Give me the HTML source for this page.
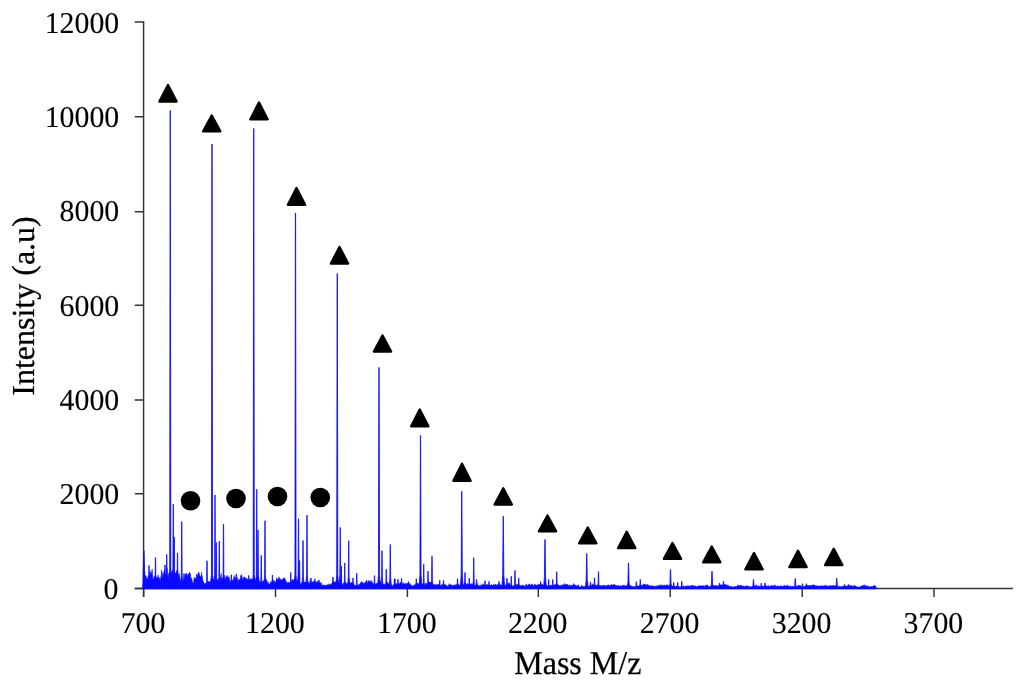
<!DOCTYPE html>
<html lang="en"><head><meta charset="utf-8"><title>Mass spectrum</title>
<style>
html,body{margin:0;padding:0;background:#fff;}
body{width:1024px;height:684px;overflow:hidden;}
svg{display:block;}
text{font-family:"Liberation Serif","Times New Roman",serif;text-rendering:geometricPrecision;fill:#000;stroke:#000;stroke-width:0.25px;}
.tk text{font-size:29.8px;stroke-width:0.12px;}
.ttl{font-size:32px;}
</style></head><body>
<svg width="1024" height="684" viewBox="0 0 1024 684">
<rect width="1024" height="684" fill="#fff"/>
<g fill="none" stroke="#333" stroke-width="1.45">
<path d="M143.6 21.28 V596.9"/>
<path d="M134.8 588.4 H1013"/>
<path d="M134.8 22 H143.6 M134.8 116.8 H143.6 M134.8 211.7 H143.6 M134.8 305.3 H143.6 M134.8 400 H143.6 M134.8 493.7 H143.6 M134.8 588.4 H143.6 "/>
<path d="M143.6 588.4 V596.9 M275.5 588.4 V596.9 M407.4 588.4 V596.9 M538.3 588.4 V596.9 M670.2 588.4 V596.9 M802.2 588.4 V596.9 M934 588.4 V596.9 "/>
</g>
<g fill="#0a0aff" stroke="#0a0aff" stroke-linejoin="miter" stroke-miterlimit="2">
<path stroke-width="0.5" d="M142.9 588.95 L142.9 574.4 L143.6 553.89 L144.1 562.03 L144.6 570.67 L145.1 575.33 L145.6 576.42 L146.1 575.58 L146.6 579.46 L147.1 577.87 L147.6 579.69 L148.1 576.24 L148.6 577.35 L149.1 575.78 L149.6 573.64 L150.1 571.19 L150.6 572.14 L151.1 574.2 L151.6 573.08 L152.1 568.94 L152.6 575.35 L153.1 579.03 L153.6 579.99 L154.1 576.48 L154.6 575.98 L155.1 576.27 L155.6 577 L156.1 576.88 L156.6 577.18 L157.1 577.61 L157.6 577.58 L158.1 574.84 L158.6 576.93 L159.1 579.92 L159.6 577.56 L160.1 581.06 L160.6 577.96 L161.1 575.94 L161.6 569.74 L162.1 578.19 L162.6 574.05 L163.1 571.82 L163.6 575.94 L164.1 573.6 L164.6 569.63 L165.1 574.56 L165.6 574.31 L166.1 575.19 L166.6 573.92 L167.1 568.02 L167.6 574.95 L168.1 579 L168.6 573.17 L169.1 576.56 L169.6 570.47 L170.1 574.71 L170.6 573.86 L171.1 572.44 L171.6 572.88 L172.1 569.89 L172.6 571.7 L173.1 570.6 L173.6 574.71 L174.1 572.94 L174.6 573.24 L175.1 572.7 L175.6 573.3 L176.1 573.21 L176.6 570.5 L177.1 572.14 L177.6 570.44 L178.1 573.64 L178.6 577.2 L179.1 573.15 L179.6 576.41 L180.1 578.72 L180.6 581.6 L181.1 580.75 L181.6 580.27 L182.1 582.77 L182.6 582.79 L183.1 579.1 L183.6 582.82 L184.1 579.45 L184.6 579.35 L185.1 575.89 L185.6 576.52 L186.1 572.99 L186.6 574.01 L187.1 574.19 L187.6 577.87 L188.1 573.8 L188.6 574.52 L189.1 573.27 L189.6 572.1 L190.1 576.7 L190.6 579.23 L191.1 577.4 L191.6 578.72 L192.1 580.22 L192.6 582.59 L193.1 583.1 L193.6 582.52 L194.1 577.33 L194.6 579.79 L195.1 577.54 L195.6 579.49 L196.1 578.65 L196.6 573.81 L197.1 575.35 L197.6 575.39 L198.1 573.51 L198.6 572.08 L199.1 573.04 L199.6 575.11 L200.1 576.51 L200.6 576.56 L201.1 577.1 L201.6 572.25 L202.1 579.46 L202.6 578.64 L203.1 582.02 L203.6 581.6 L204.1 583.4 L204.6 583.42 L205.1 583.21 L205.6 583.44 L206.1 583.45 L206.6 583.47 L207.1 583.48 L207.6 582.34 L208.1 581.03 L208.6 582.17 L209.1 581.66 L209.6 581.49 L210.1 583.34 L210.6 581.61 L211.1 578.46 L211.6 580.39 L212.1 575.6 L212.6 576.62 L213.1 581.33 L213.6 578.9 L214.1 581.92 L214.6 580.45 L215.1 579.26 L215.6 583 L216.1 580.5 L216.6 581.15 L217.1 579.21 L217.6 580.31 L218.1 579.87 L218.6 581 L219.1 581.19 L219.6 579.38 L220.1 577.3 L220.6 577.37 L221.1 573.4 L221.6 578.61 L222.1 578.81 L222.6 578.5 L223.1 577.58 L223.6 576.76 L224.1 581.46 L224.6 575.09 L225.1 578.94 L225.6 578.88 L226.1 576.34 L226.6 577.47 L227.1 575.18 L227.6 576.75 L228.1 577.13 L228.6 577.16 L229.1 576.66 L229.6 580.39 L230.1 580.59 L230.6 582.95 L231.1 582.06 L231.6 580.92 L232.1 579.4 L232.6 580.99 L233.1 580.87 L233.6 577.96 L234.1 575.46 L234.6 578.52 L235.1 577.04 L235.6 578.83 L236.1 578.51 L236.6 580.43 L237.1 576.87 L237.6 579.9 L238.1 582 L238.6 579.08 L239.1 579.57 L239.6 579.68 L240.1 579.81 L240.6 575.42 L241.1 576.59 L241.6 574.62 L242.1 578.65 L242.6 579.68 L243.1 576.68 L243.6 578.44 L244.1 579.24 L244.6 576.82 L245.1 577.47 L245.6 577.72 L246.1 580.02 L246.6 578.1 L247.1 578.83 L247.6 579.76 L248.1 579.54 L248.6 580.78 L249.1 579.21 L249.6 579.47 L250.1 580.05 L250.6 578.57 L251.1 580.13 L251.6 578.6 L252.1 579.49 L252.6 578.94 L253.1 579.53 L253.6 579.2 L254.1 580.62 L254.6 578.41 L255.1 580.72 L255.6 579.98 L256.1 577.65 L256.6 578.36 L257.1 577.34 L257.6 577.01 L258.1 578.71 L258.6 576.83 L259.1 581.06 L259.6 582.32 L260.1 580.39 L260.6 583.82 L261.1 583.13 L261.6 583.31 L262.1 581.86 L262.6 581.5 L263.1 580.54 L263.6 581 L264.1 580.75 L264.6 580.67 L265.1 579.14 L265.6 578.33 L266.1 579.22 L266.6 580.07 L267.1 581.89 L267.6 582.77 L268.1 581.66 L268.6 583.89 L269.1 584.21 L269.6 583.41 L270.1 584.44 L270.6 581.45 L271.1 582.2 L271.6 582.34 L272.1 580.94 L272.6 579.46 L273.1 579.71 L273.6 581.51 L274.1 583.25 L274.6 580.48 L275.1 582.45 L275.6 581.83 L276.1 580.75 L276.6 579.97 L277.1 579.63 L277.6 579.51 L278.1 579.01 L278.6 578.27 L279.1 576.83 L279.6 579.45 L280.1 578.48 L280.6 580.49 L281.1 579.2 L281.6 580.14 L282.1 579.5 L282.6 579.23 L283.1 578.96 L283.6 579.84 L284.1 577.61 L284.6 578.22 L285.1 579.19 L285.6 579.84 L286.1 581.6 L286.6 582.31 L287.1 582.11 L287.6 584.12 L288.1 581.91 L288.6 583.26 L289.1 582.24 L289.6 583.23 L290.1 582.33 L290.6 581.54 L291.1 582.31 L291.6 581.3 L292.1 579.01 L292.6 581.27 L293.1 580.22 L293.6 580.59 L294.1 579.06 L294.6 580 L295.1 578.3 L295.6 579.5 L296.1 581.16 L296.6 579.82 L297.1 580.84 L297.6 581.08 L298.1 581.41 L298.6 580.88 L299.1 584.28 L299.6 583.83 L300.1 584.22 L300.6 583.76 L301.1 584.75 L301.6 582.31 L302.1 582.74 L302.6 582.44 L303.1 582.62 L303.6 581.88 L304.1 581.67 L304.6 582.78 L305.1 581.75 L305.6 582.11 L306.1 583 L306.6 581.81 L307.1 583.35 L307.6 583.17 L308.1 582.77 L308.6 582.01 L309.1 583.5 L309.6 583.61 L310.1 579.77 L310.6 582.07 L311.1 581.76 L311.6 582.79 L312.1 582.07 L312.6 582.76 L313.1 581.02 L313.6 582.65 L314.1 581.39 L314.6 583.24 L315.1 581.35 L315.6 582.29 L316.1 582.51 L316.6 582.91 L317.1 581.12 L317.6 581.29 L318.1 582.37 L318.6 582.91 L319.1 582.26 L319.6 583.45 L320.1 582.76 L320.6 583.99 L321.1 581.99 L321.6 584.43 L322.1 584.77 L322.6 585.51 L323.1 585.52 L323.6 584.82 L324.1 585.25 L324.6 585.27 L325.1 584.78 L325.6 585.45 L326.1 585.3 L326.6 585.43 L327.1 584.81 L327.6 584.87 L328.1 584.72 L328.6 583.69 L329.1 585.19 L329.6 584.79 L330.1 584.24 L330.6 584.01 L331.1 584.89 L331.6 583.54 L332.1 582.89 L332.6 582.15 L333.1 581.49 L333.6 582.13 L334.1 581.94 L334.6 581.79 L335.1 582.7 L335.6 582.04 L336.1 580.95 L336.6 581.28 L337.1 580.29 L337.6 580.7 L338.1 580.2 L338.6 581.83 L339.1 583.13 L339.6 583.74 L340.1 582.9 L340.6 584.15 L341.1 585.71 L341.6 585.39 L342.1 585.72 L342.6 585.28 L343.1 583.25 L343.6 583.34 L344.1 582.69 L344.6 583.55 L345.1 583.89 L345.6 581.88 L346.1 582.72 L346.6 585.04 L347.1 583.09 L347.6 584.39 L348.1 583.85 L348.6 580.91 L349.1 582.61 L349.6 581.91 L350.1 583.2 L350.6 583.09 L351.1 582.39 L351.6 582.74 L352.1 582.32 L352.6 584.63 L353.1 583.27 L353.6 583.04 L354.1 584.82 L354.6 585.69 L355.1 585.01 L355.6 585.32 L356.1 585.85 L356.6 585.86 L357.1 585.86 L357.6 585.87 L358.1 585.73 L358.6 584.28 L359.1 584.87 L359.6 584.8 L360.1 583.38 L360.6 582.5 L361.1 583.25 L361.6 581.47 L362.1 581.68 L362.6 582.75 L363.1 582.41 L363.6 583.76 L364.1 583.36 L364.6 582.85 L365.1 582.82 L365.6 582.25 L366.1 580.61 L366.6 580.22 L367.1 581.54 L367.6 583.42 L368.1 581.84 L368.6 580.27 L369.1 581.57 L369.6 581.07 L370.1 582.22 L370.6 580.73 L371.1 580.59 L371.6 582.22 L372.1 581.52 L372.6 583.67 L373.1 582.93 L373.6 584.76 L374.1 583.52 L374.6 584.79 L375.1 584.86 L375.6 583.84 L376.1 583.93 L376.6 583.26 L377.1 582.96 L377.6 583.3 L378.1 582.94 L378.6 583.75 L379.1 583.63 L379.6 581.99 L380.1 583.74 L380.6 581.18 L381.1 583.18 L381.6 583.91 L382.1 584.09 L382.6 584.57 L383.1 584.88 L383.6 583.94 L384.1 584.81 L384.6 583.81 L385.1 584.4 L385.6 584.63 L386.1 583.25 L386.6 581.87 L387.1 581.89 L387.6 582.05 L388.1 583.83 L388.6 583.77 L389.1 584.12 L389.6 583.88 L390.1 584.42 L390.6 583.06 L391.1 584.72 L391.6 586.14 L392.1 586.14 L392.6 585.58 L393.1 584.71 L393.6 585.06 L394.1 584.17 L394.6 585.34 L395.1 584.02 L395.6 584.71 L396.1 584.12 L396.6 583.4 L397.1 584.04 L397.6 584.5 L398.1 584.23 L398.6 583.14 L399.1 583.47 L399.6 584.15 L400.1 582.54 L400.6 582 L401.1 583.85 L401.6 583.16 L402.1 583.94 L402.6 584.87 L403.1 582.43 L403.6 584.35 L404.1 583.81 L404.6 583.52 L405.1 583.89 L405.6 583.23 L406.1 584.22 L406.6 583.99 L407.1 582.89 L407.6 584.23 L408.1 582.38 L408.6 581.25 L409.1 584.51 L409.6 583.45 L410.1 583.59 L410.6 584.8 L411.1 585.09 L411.6 585.46 L412.1 586.28 L412.6 585.59 L413.1 585.64 L413.6 585.44 L414.1 585.59 L414.6 584.56 L415.1 584.46 L415.6 585.15 L416.1 584.33 L416.6 582.55 L417.1 583.99 L417.6 583.17 L418.1 583.49 L418.6 583.63 L419.1 583.5 L419.6 582.22 L420.1 584.07 L420.6 583.56 L421.1 585.16 L421.6 585 L422.1 583.71 L422.6 584.11 L423.1 583.75 L423.6 584.92 L424.1 585.67 L424.6 585.61 L425.1 585.26 L425.6 583.04 L426.1 583.69 L426.6 583.64 L427.1 583.35 L427.6 584.23 L428.1 582.62 L428.6 582.26 L429.1 582.1 L429.6 581.99 L430.1 582.58 L430.6 582.04 L431.1 583.29 L431.6 583.1 L432.1 583.48 L432.6 583.93 L433.1 585.37 L433.6 584.29 L434.1 584.69 L434.6 584.32 L435.1 585.08 L435.6 584.85 L436.1 585.2 L436.6 584.14 L437.1 584.53 L437.6 584.3 L438.1 584.8 L438.6 584.96 L439.1 583.73 L439.6 584.59 L440.1 585.03 L440.6 585.63 L441.1 585.73 L441.6 584.47 L442.1 585.93 L442.6 584.16 L443.1 585.12 L443.6 583.83 L444.1 585.01 L444.6 584.37 L445.1 584.33 L445.6 585.53 L446.1 585.09 L446.6 585.61 L447.1 585.53 L447.6 586.48 L448.1 586.33 L448.6 585.35 L449.1 583.58 L449.6 584.9 L450.1 585.51 L450.6 584.22 L451.1 585.1 L451.6 585.21 L452.1 585.57 L452.6 584.99 L453.1 585.33 L453.6 585.14 L454.1 585.44 L454.6 585.24 L455.1 584.63 L455.6 585.38 L456.1 584.21 L456.6 585.15 L457.1 584.64 L457.6 585.28 L458.1 584 L458.6 584.21 L459.1 585.2 L459.6 585.32 L460.1 585.22 L460.6 583.89 L461.1 583.26 L461.6 584.31 L462.1 584.31 L462.6 584.15 L463.1 585.42 L463.6 584.32 L464.1 583.8 L464.6 583.4 L465.1 583.34 L465.6 582.74 L466.1 584.81 L466.6 584.84 L467.1 584.07 L467.6 583.28 L468.1 584.43 L468.6 584.57 L469.1 584.81 L469.6 583.86 L470.1 584.13 L470.6 584.36 L471.1 584.22 L471.6 583.59 L472.1 583.79 L472.6 584.54 L473.1 584.56 L473.6 585.6 L474.1 585.15 L474.6 585.11 L475.1 585.06 L475.6 585.44 L476.1 584.87 L476.6 585.22 L477.1 585.89 L477.6 583.42 L478.1 586.14 L478.6 585.92 L479.1 585.03 L479.6 585.65 L480.1 585.4 L480.6 585.83 L481.1 584.65 L481.6 585.46 L482.1 585.12 L482.6 583.54 L483.1 585.3 L483.6 584.76 L484.1 584.39 L484.6 584.47 L485.1 585.33 L485.6 584.96 L486.1 585.35 L486.6 584.61 L487.1 585.58 L487.6 584.29 L488.1 585.18 L488.6 585.53 L489.1 585.5 L489.6 585.17 L490.1 585.99 L490.6 585.1 L491.1 585.44 L491.6 584.38 L492.1 584.69 L492.6 585.6 L493.1 584.72 L493.6 584.74 L494.1 585.1 L494.6 584.95 L495.1 584.07 L495.6 584.49 L496.1 585.03 L496.6 585.58 L497.1 584.3 L497.6 585.06 L498.1 585.35 L498.6 585.12 L499.1 583.62 L499.6 584.68 L500.1 584.43 L500.6 585.44 L501.1 584.67 L501.6 585.33 L502.1 585.19 L502.6 585.02 L503.1 585.24 L503.6 586.08 L504.1 586.26 L504.6 586.02 L505.1 585.35 L505.6 585.47 L506.1 583.88 L506.6 584.46 L507.1 583.92 L507.6 584.67 L508.1 583.57 L508.6 582.85 L509.1 582.85 L509.6 583.69 L510.1 584.93 L510.6 585.27 L511.1 585.63 L511.6 585.54 L512.1 586.27 L512.6 585.61 L513.1 586.65 L513.6 585.44 L514.1 586.74 L514.6 585.98 L515.1 586.29 L515.6 586.14 L516.1 586.03 L516.6 584.35 L517.1 584.33 L517.6 585.1 L518.1 583.78 L518.6 584.59 L519.1 585.2 L519.6 584.96 L520.1 585.71 L520.6 585.23 L521.1 585.96 L521.6 585.52 L522.1 585.3 L522.6 584.77 L523.1 585.54 L523.6 585.58 L524.1 585.75 L524.6 586.07 L525.1 586.19 L525.6 585.47 L526.1 583.79 L526.6 585.51 L527.1 585.42 L527.6 585.16 L528.1 584.75 L528.6 584.5 L529.1 584.46 L529.6 583.68 L530.1 584.94 L530.6 585.38 L531.1 584.45 L531.6 584.2 L532.1 583.99 L532.6 584.63 L533.1 585.65 L533.6 585.57 L534.1 584.72 L534.6 584.35 L535.1 584.29 L535.6 584.99 L536.1 585.18 L536.6 585.29 L537.1 584.96 L537.6 584.69 L538.1 585.32 L538.6 584.04 L539.1 584.23 L539.6 584.31 L540.1 584.64 L540.6 584.23 L541.1 584.46 L541.6 584.81 L542.1 584.31 L542.6 584.37 L543.1 584.89 L543.6 585.68 L544.1 585.71 L544.6 585.48 L545.1 586.33 L545.6 586.57 L546.1 586.85 L546.6 584.85 L547.1 586.73 L547.6 585.99 L548.1 584.92 L548.6 585.37 L549.1 585.28 L549.6 585.83 L550.1 585.56 L550.6 585.37 L551.1 585.41 L551.6 584.93 L552.1 585.65 L552.6 585.62 L553.1 585.17 L553.6 585.88 L554.1 585 L554.6 584.53 L555.1 585 L555.6 584.28 L556.1 584.32 L556.6 584.27 L557.1 584.37 L557.6 584.6 L558.1 584.43 L558.6 585.36 L559.1 585.74 L559.6 585.54 L560.1 585.39 L560.6 585.16 L561.1 586.13 L561.6 585.56 L562.1 584.42 L562.6 585.01 L563.1 585.2 L563.6 585.32 L564.1 584.26 L564.6 583.4 L565.1 584.4 L565.6 584.32 L566.1 585.08 L566.6 584.72 L567.1 584.07 L567.6 584.16 L568.1 585.4 L568.6 585.76 L569.1 585.53 L569.6 584.52 L570.1 585.64 L570.6 585.52 L571.1 585.6 L571.6 585.27 L572.1 585.56 L572.6 585.39 L573.1 584.27 L573.6 583.47 L574.1 585.25 L574.6 584.75 L575.1 585.06 L575.6 585.1 L576.1 585.66 L576.6 585.84 L577.1 586.21 L577.6 585.72 L578.1 584.56 L578.6 586.03 L579.1 586.22 L579.6 586.94 L580.1 586.94 L580.6 586.94 L581.1 586.39 L581.6 585.03 L582.1 586.68 L582.6 585.9 L583.1 586.82 L583.6 586.3 L584.1 586.88 L584.6 586.08 L585.1 586.58 L585.6 586.12 L586.1 586.8 L586.6 586.36 L587.1 586.81 L587.6 586.16 L588.1 586.68 L588.6 586.55 L589.1 586.06 L589.6 585.36 L590.1 585.63 L590.6 585.78 L591.1 585.13 L591.6 585.32 L592.1 584.92 L592.6 583.65 L593.1 585.27 L593.6 584.72 L594.1 585.05 L594.6 585.36 L595.1 584.89 L595.6 584.97 L596.1 585.28 L596.6 585.43 L597.1 585.01 L597.6 584.73 L598.1 585.14 L598.6 585.25 L599.1 585.69 L599.6 585.89 L600.1 585.3 L600.6 585.77 L601.1 585.41 L601.6 586.1 L602.1 585.62 L602.6 585.46 L603.1 584.96 L603.6 585.42 L604.1 585.5 L604.6 585.14 L605.1 586.43 L605.6 585.41 L606.1 585.23 L606.6 585.75 L607.1 585.74 L607.6 584.99 L608.1 585.27 L608.6 584.89 L609.1 584.98 L609.6 585.28 L610.1 585.66 L610.6 585.55 L611.1 584.39 L611.6 584.74 L612.1 584.85 L612.6 585.22 L613.1 584.78 L613.6 584.5 L614.1 584.73 L614.6 584.53 L615.1 584.8 L615.6 585.23 L616.1 586.03 L616.6 585.57 L617.1 585.89 L617.6 585.5 L618.1 585.03 L618.6 586.23 L619.1 586.28 L619.6 586.08 L620.1 585.96 L620.6 585.3 L621.1 586.22 L621.6 586.25 L622.1 585.57 L622.6 585.59 L623.1 585.22 L623.6 585.12 L624.1 586.06 L624.6 585.33 L625.1 585.78 L625.6 586.12 L626.1 585.47 L626.6 585.76 L627.1 585.86 L627.6 586.08 L628.1 585.83 L628.6 585.68 L629.1 585.5 L629.6 585.67 L630.1 586.01 L630.6 585.43 L631.1 586.13 L631.6 585.92 L632.1 586.25 L632.6 586.57 L633.1 586.74 L633.6 586.48 L634.1 586.07 L634.6 586.96 L635.1 587.05 L635.6 586.8 L636.1 587.05 L636.6 586.7 L637.1 586.39 L637.6 585.65 L638.1 585.75 L638.6 585.78 L639.1 586.54 L639.6 585.59 L640.1 585.71 L640.6 585.62 L641.1 584.76 L641.6 585.47 L642.1 585.3 L642.6 585.45 L643.1 584.57 L643.6 584.09 L644.1 584.1 L644.6 583.94 L645.1 584.6 L645.6 585.07 L646.1 584.37 L646.6 584.88 L647.1 584.62 L647.6 584.6 L648.1 585.46 L648.6 585 L649.1 586.09 L649.6 585.29 L650.1 585.57 L650.6 586.42 L651.1 585.94 L651.6 585.57 L652.1 585.72 L652.6 585.77 L653.1 586.29 L653.6 585.9 L654.1 586.99 L654.6 586.34 L655.1 585.91 L655.6 586.23 L656.1 585.88 L656.6 586.49 L657.1 585.71 L657.6 585.5 L658.1 585.4 L658.6 585.75 L659.1 585.74 L659.6 584.86 L660.1 585.59 L660.6 586.1 L661.1 584.54 L661.6 586.01 L662.1 585.53 L662.6 584.94 L663.1 585.64 L663.6 585.29 L664.1 585.14 L664.6 585.17 L665.1 585.29 L665.6 585.64 L666.1 584.59 L666.6 585.76 L667.1 586.05 L667.6 584.6 L668.1 585.59 L668.6 585.57 L669.1 585.85 L669.6 585.52 L670.1 585.19 L670.6 585.8 L671.1 585.93 L671.6 585.78 L672.1 585.68 L672.6 585.93 L673.1 586.63 L673.6 586.31 L674.1 585.97 L674.6 586.58 L675.1 586.11 L675.6 586.9 L676.1 586.51 L676.6 586.05 L677.1 585.88 L677.6 585.91 L678.1 587.07 L678.6 586.55 L679.1 587.11 L679.6 587.11 L680.1 586.52 L680.6 587.12 L681.1 587.12 L681.6 586.39 L682.1 586.81 L682.6 586.9 L683.1 586.05 L683.6 585.67 L684.1 586.16 L684.6 586.83 L685.1 586.35 L685.6 586.29 L686.1 586.39 L686.6 585.73 L687.1 585.38 L687.6 586.21 L688.1 585.88 L688.6 586.04 L689.1 585.69 L689.6 586.28 L690.1 585.76 L690.6 586.42 L691.1 585.3 L691.6 585.63 L692.1 585.21 L692.6 585.87 L693.1 585.19 L693.6 585.96 L694.1 586.2 L694.6 586.11 L695.1 586.02 L695.6 585.76 L696.1 586.88 L696.6 586.5 L697.1 586.13 L697.6 586.4 L698.1 586.45 L698.6 585.85 L699.1 586.34 L699.6 585.39 L700.1 585.89 L700.6 585.6 L701.1 585.97 L701.6 585.91 L702.1 586.12 L702.6 585.42 L703.1 585.55 L703.6 585.98 L704.1 586.34 L704.6 586.23 L705.1 586.05 L705.6 585.17 L706.1 584.83 L706.6 585.53 L707.1 585.68 L707.6 584.79 L708.1 586.19 L708.6 586.56 L709.1 586.47 L709.6 586.16 L710.1 586.56 L710.6 586.69 L711.1 586.65 L711.6 585.59 L712.1 586.15 L712.6 585.61 L713.1 585.59 L713.6 585.46 L714.1 585.94 L714.6 585.12 L715.1 586.16 L715.6 585.59 L716.1 586.07 L716.6 585.36 L717.1 586.52 L717.6 585.85 L718.1 585.6 L718.6 585.65 L719.1 585.81 L719.6 585.32 L720.1 585.48 L720.6 584.7 L721.1 585.01 L721.6 584.75 L722.1 584.71 L722.6 585.12 L723.1 585.38 L723.6 584.73 L724.1 584.65 L724.6 584.48 L725.1 584.3 L725.6 584.57 L726.1 585 L726.6 585.31 L727.1 584.67 L727.6 585.69 L728.1 585.16 L728.6 585.6 L729.1 586.15 L729.6 586.38 L730.1 586.57 L730.6 586.36 L731.1 586.57 L731.6 586.54 L732.1 586.71 L732.6 586.8 L733.1 587.18 L733.6 587.18 L734.1 587.18 L734.6 586.23 L735.1 586.38 L735.6 586.4 L736.1 586.2 L736.6 586.55 L737.1 586.29 L737.6 585.65 L738.1 584.79 L738.6 585.5 L739.1 585.39 L739.6 585.49 L740.1 585.33 L740.6 585.49 L741.1 585.25 L741.6 585.49 L742.1 585.88 L742.6 586.55 L743.1 585.81 L743.6 585.91 L744.1 586.31 L744.6 586.26 L745.1 586.45 L745.6 586.32 L746.1 585.78 L746.6 585.63 L747.1 585.63 L747.6 586.16 L748.1 586.29 L748.6 586.08 L749.1 587.2 L749.6 587.08 L750.1 586.18 L750.6 586.98 L751.1 587.02 L751.6 586.78 L752.1 586.57 L752.6 586.05 L753.1 585.96 L753.6 586.06 L754.1 585.53 L754.6 586.24 L755.1 585.82 L755.6 585.56 L756.1 584.7 L756.6 585.51 L757.1 586.65 L757.6 586.43 L758.1 585.68 L758.6 585.81 L759.1 586.2 L759.6 586.33 L760.1 586.52 L760.6 586.14 L761.1 585.96 L761.6 585.97 L762.1 586.2 L762.6 585.88 L763.1 586.57 L763.6 585.97 L764.1 586.42 L764.6 585.54 L765.1 585.14 L765.6 586.5 L766.1 585.62 L766.6 586.26 L767.1 586.08 L767.6 586.58 L768.1 585.36 L768.6 585.93 L769.1 586.24 L769.6 586.33 L770.1 586.46 L770.6 585.85 L771.1 585.64 L771.6 585.35 L772.1 586.19 L772.6 585.36 L773.1 586.27 L773.6 586.02 L774.1 585.44 L774.6 585.21 L775.1 584.73 L775.6 586.61 L776.1 586.56 L776.6 586.26 L777.1 586.08 L777.6 585.89 L778.1 585.74 L778.6 586.38 L779.1 586.54 L779.6 586.23 L780.1 586.21 L780.6 585.8 L781.1 586.1 L781.6 585.94 L782.1 585.69 L782.6 586.51 L783.1 586.17 L783.6 586.03 L784.1 585.56 L784.6 585.29 L785.1 586.42 L785.6 586.08 L786.1 585.54 L786.6 585.68 L787.1 586.06 L787.6 584.83 L788.1 586.09 L788.6 586.58 L789.1 585.96 L789.6 586.13 L790.1 585.83 L790.6 586.35 L791.1 586.58 L791.6 586.39 L792.1 586.42 L792.6 585.87 L793.1 586.58 L793.6 586.45 L794.1 587.17 L794.6 586.83 L795.1 586.92 L795.6 586.44 L796.1 585.98 L796.6 586.73 L797.1 586.19 L797.6 585.75 L798.1 585.19 L798.6 585.55 L799.1 585.19 L799.6 586.01 L800.1 585.25 L800.6 585.89 L801.1 585.9 L801.6 586.39 L802.1 586.85 L802.6 587.24 L803.1 586.87 L803.6 587.03 L804.1 586.05 L804.6 586.6 L805.1 586.32 L805.6 585.54 L806.1 586.49 L806.6 585.54 L807.1 585.47 L807.6 585.59 L808.1 585.43 L808.6 585.57 L809.1 585.98 L809.6 585.69 L810.1 585.39 L810.6 585.33 L811.1 585.19 L811.6 585.57 L812.1 585.05 L812.6 585.47 L813.1 584.62 L813.6 584.86 L814.1 585.57 L814.6 585.18 L815.1 585.33 L815.6 585.82 L816.1 585.49 L816.6 585.67 L817.1 585.66 L817.6 586.1 L818.1 586.47 L818.6 585.97 L819.1 585.94 L819.6 585.93 L820.1 585.68 L820.6 586.18 L821.1 586.01 L821.6 585.75 L822.1 585.5 L822.6 585.65 L823.1 586.01 L823.6 586.07 L824.1 585.75 L824.6 585.8 L825.1 584.77 L825.6 586.49 L826.1 585.77 L826.6 585.64 L827.1 586.15 L827.6 585.9 L828.1 586.31 L828.6 586 L829.1 585.67 L829.6 585.62 L830.1 585.78 L830.6 585.99 L831.1 585.62 L831.6 586.2 L832.1 585.07 L832.6 585.89 L833.1 585.53 L833.6 585.85 L834.1 585.56 L834.6 585.79 L835.1 585.8 L835.6 585.73 L836.1 586.24 L836.6 586.26 L837.1 586.47 L837.6 586.34 L838.1 586.6 L838.6 586.94 L839.1 585.67 L839.6 586.57 L840.1 587.02 L840.6 586.23 L841.1 586.39 L841.6 586.71 L842.1 586.41 L842.6 586.56 L843.1 585.71 L843.6 586.29 L844.1 586.17 L844.6 586.57 L845.1 585.73 L845.6 586.08 L846.1 586.33 L846.6 586.48 L847.1 585.73 L847.6 585.9 L848.1 585.54 L848.6 586.06 L849.1 585.4 L849.6 585.9 L850.1 585.15 L850.6 585.38 L851.1 585.98 L851.6 585.79 L852.1 586.13 L852.6 586.05 L853.1 585.67 L853.6 586.06 L854.1 585.79 L854.6 585.4 L855.1 586.35 L855.6 585.97 L856.1 586.26 L856.6 586.85 L857.1 586.81 L857.6 586.85 L858.1 587.28 L858.6 587.14 L859.1 586.66 L859.6 587.13 L860.1 586.52 L860.6 586.33 L861.1 586.05 L861.6 586.08 L862.1 585.6 L862.6 585.97 L863.1 585.44 L863.6 585.18 L864.1 584.96 L864.6 585.18 L865.1 585.32 L865.6 585.73 L866.1 585.79 L866.6 586.43 L867.1 585.55 L867.6 586.15 L868.1 586.48 L868.6 585.9 L869.1 586.8 L869.6 586.74 L870.1 586.91 L870.6 586.43 L871.1 586.79 L871.6 586.3 L872.1 586.22 L872.6 586.79 L873.1 586.12 L873.6 585.86 L874.1 585.62 L874.6 585.77 L875.1 585.25 L875.6 586.8 L876.1 586.8 L876.25 588.95 Z"/>
<path stroke-width="0.75" d="M142.6 588.4 L143.5 578.99 L143.78 550.75 L144.02 550.75 L144.3 578.99 L145.2 588.4 Z M147.7 588.4 L148.6 582.67 L148.88 565.5 L149.12 565.5 L149.4 582.67 L150.3 588.4 Z M154.2 588.4 L155.1 580.67 L155.38 557.5 L155.62 557.5 L155.9 580.67 L156.8 588.4 Z M163.7 588.4 L164.6 582.55 L164.88 565 L165.12 565 L165.4 582.55 L166.3 588.4 Z M165.45 588.4 L166.35 579.92 L166.63 554.5 L166.87 554.5 L167.15 579.92 L168.05 588.4 Z M171.95 588.4 L172.85 574.4 L173.13 504.25 L173.37 504.25 L173.65 574.4 L174.55 588.4 Z M172.95 588.4 L173.85 575.55 L174.13 537 L174.37 537 L174.65 575.55 L175.55 588.4 Z M176.2 588.4 L177.1 579.55 L177.38 553 L177.62 553 L177.9 579.55 L178.8 588.4 Z M180.45 588.4 L181.35 574.4 L181.63 521.75 L181.87 521.75 L182.15 574.4 L183.05 588.4 Z M205.7 588.4 L206.6 581.49 L206.88 560.75 L207.12 560.75 L207.4 581.49 L208.3 588.4 Z M213.7 588.4 L214.6 574.4 L214.88 495 L215.12 495 L215.4 574.4 L216.3 588.4 Z M214.95 588.4 L215.85 576.92 L216.13 542.5 L216.37 542.5 L216.65 576.92 L217.55 588.4 Z M217.95 588.4 L218.85 576.61 L219.13 541.25 L219.37 541.25 L219.65 576.61 L220.55 588.4 Z M222.2 588.4 L223.1 574.4 L223.38 524.25 L223.62 524.25 L223.9 574.4 L224.8 588.4 Z M255.45 588.4 L256.35 574.4 L256.63 489.25 L256.87 489.25 L257.15 574.4 L258.05 588.4 Z M256.7 588.4 L257.6 574.4 L257.88 530 L258.12 530 L258.4 574.4 L259.3 588.4 Z M259.95 588.4 L260.85 580.17 L261.13 555.5 L261.37 555.5 L261.65 580.17 L262.55 588.4 Z M263.7 588.4 L264.6 574.4 L264.88 520.75 L265.12 520.75 L265.4 574.4 L266.3 588.4 Z M289.45 588.4 L290.35 584.42 L290.63 572.5 L290.87 572.5 L291.15 584.42 L292.05 588.4 Z M297.2 588.4 L298.1 574.4 L298.38 518.75 L298.62 518.75 L298.9 574.4 L299.8 588.4 Z M298.2 588.4 L299.1 581.45 L299.38 560.6 L299.62 560.6 L299.9 581.45 L300.8 588.4 Z M301.7 588.4 L302.6 576.42 L302.88 540.5 L303.12 540.5 L303.4 576.42 L304.3 588.4 Z M305.7 588.4 L306.6 574.4 L306.88 515.25 L307.12 515.25 L307.4 574.4 L308.3 588.4 Z M338.95 588.4 L339.85 574.4 L340.13 527.5 L340.37 527.5 L340.65 574.4 L341.55 588.4 Z M340 588.4 L340.9 582.86 L341.18 566.25 L341.42 566.25 L341.7 582.86 L342.6 588.4 Z M343.45 588.4 L344.35 582.05 L344.63 563 L344.87 563 L345.15 582.05 L346.05 588.4 Z M347.45 588.4 L348.35 576.49 L348.63 540.75 L348.87 540.75 L349.15 576.49 L350.05 588.4 Z M355.45 588.4 L356.35 584.61 L356.63 573.25 L356.87 573.25 L357.15 584.61 L358.05 588.4 Z M373.2 588.4 L374.1 585.24 L374.38 575.75 L374.62 575.75 L374.9 585.24 L375.8 588.4 Z M380.7 588.4 L381.6 578.99 L381.88 550.75 L382.12 550.75 L382.4 578.99 L383.3 588.4 Z M384.95 588.4 L385.85 583.61 L386.13 569.25 L386.37 569.25 L386.65 583.61 L387.55 588.4 Z M388.95 588.4 L389.85 577.42 L390.13 544.5 L390.37 544.5 L390.65 577.42 L391.55 588.4 Z M393.2 588.4 L394.1 585.99 L394.38 578.75 L394.62 578.75 L394.9 585.99 L395.8 588.4 Z M396.7 588.4 L397.6 586.11 L397.88 579.25 L398.12 579.25 L398.4 586.11 L399.3 588.4 Z M414.95 588.4 L415.85 585.99 L416.13 578.75 L416.37 578.75 L416.65 585.99 L417.55 588.4 Z M422.45 588.4 L423.35 582.36 L423.63 564.25 L423.87 564.25 L424.15 582.36 L425.05 588.4 Z M426.7 588.4 L427.6 584.11 L427.88 571.25 L428.12 571.25 L428.4 584.11 L429.3 588.4 Z M430.7 588.4 L431.6 580.3 L431.88 556 L432.12 556 L432.4 580.3 L433.3 588.4 Z M456.2 588.4 L457.1 585.99 L457.38 578.75 L457.62 578.75 L457.9 585.99 L458.8 588.4 Z M463.7 588.4 L464.6 584.42 L464.88 572.5 L465.12 572.5 L465.4 584.42 L466.3 588.4 Z M467.95 588.4 L468.85 585.8 L469.13 578 L469.37 578 L469.65 585.8 L470.55 588.4 Z M472.45 588.4 L473.35 580.74 L473.63 557.75 L473.87 557.75 L474.15 580.74 L475.05 588.4 Z M483.7 588.4 L484.6 586.49 L484.88 580.75 L485.12 580.75 L485.4 586.49 L486.3 588.4 Z M505.7 588.4 L506.6 585.86 L506.88 578.25 L507.12 578.25 L507.4 585.86 L508.3 588.4 Z M509.95 588.4 L510.85 585.36 L511.13 576.25 L511.37 576.25 L511.65 585.36 L512.55 588.4 Z M513.7 588.4 L514.6 583.92 L514.88 570.5 L515.12 570.5 L515.4 583.92 L516.3 588.4 Z M517.45 588.4 L518.35 585.86 L518.63 578.25 L518.87 578.25 L519.15 585.86 L520.05 588.4 Z M539.45 588.4 L540.35 586.74 L540.63 581.75 L540.87 581.75 L541.15 586.74 L542.05 588.4 Z M547.45 588.4 L548.35 586.17 L548.63 579.5 L548.87 579.5 L549.15 586.17 L550.05 588.4 Z M551.45 588.4 L552.35 586.17 L552.63 579.5 L552.87 579.5 L553.15 586.17 L554.05 588.4 Z M555.45 588.4 L556.35 584.24 L556.63 571.75 L556.87 571.75 L557.15 584.24 L558.05 588.4 Z M589.2 588.4 L590.1 586.8 L590.38 582 L590.62 582 L590.9 586.8 L591.8 588.4 Z M593.2 588.4 L594.1 585.8 L594.38 578 L594.62 578 L594.9 585.8 L595.8 588.4 Z M597.2 588.4 L598.1 584.24 L598.38 571.75 L598.62 571.75 L598.9 584.24 L599.8 588.4 Z M634.95 588.4 L635.85 586.74 L636.13 581.75 L636.37 581.75 L636.65 586.74 L637.55 588.4 Z M638.95 588.4 L639.85 586.17 L640.13 579.5 L640.37 579.5 L640.65 586.17 L641.55 588.4 Z M672.45 588.4 L673.35 586.92 L673.63 582.5 L673.87 582.5 L674.15 586.92 L675.05 588.4 Z M676.45 588.4 L677.35 586.92 L677.63 582.5 L677.87 582.5 L678.15 586.92 L679.05 588.4 Z M680.45 588.4 L681.35 586.61 L681.63 581.25 L681.87 581.25 L682.15 586.61 L683.05 588.4 Z M718.2 588.4 L719.1 587.05 L719.38 583 L719.62 583 L719.9 587.05 L720.8 588.4 Z M722.2 588.4 L723.1 586.61 L723.38 581.25 L723.62 581.25 L723.9 586.61 L724.8 588.4 Z M759.95 588.4 L760.85 587.11 L761.13 583.25 L761.37 583.25 L761.65 587.11 L762.55 588.4 Z M763.7 588.4 L764.6 587.05 L764.88 583 L765.12 583 L765.4 587.05 L766.3 588.4 Z M801.2 588.4 L802.1 587.24 L802.38 583.75 L802.62 583.75 L802.9 587.24 L803.8 588.4 Z M805.2 588.4 L806.1 587.24 L806.38 583.75 L806.62 583.75 L806.9 587.24 L807.8 588.4 Z M843.2 588.4 L844.1 587.42 L844.38 584.5 L844.62 584.5 L844.9 587.42 L845.8 588.4 Z M847.2 588.4 L848.1 587.42 L848.38 584.5 L848.62 584.5 L848.9 587.42 L849.8 588.4 Z M271.1 588.4 L272 585.05 L272.28 575 L272.52 575 L272.8 585.05 L273.7 588.4 Z M275.45 588.4 L276.35 585.8 L276.63 578 L276.87 578 L277.15 585.8 L278.05 588.4 Z M282.7 588.4 L283.6 585.8 L283.88 578 L284.12 578 L284.4 585.8 L285.3 588.4 Z M309.7 588.4 L310.6 585.8 L310.88 578 L311.12 578 L311.4 585.8 L312.3 588.4 Z M313.6 588.4 L314.5 586.05 L314.78 579 L315.02 579 L315.3 586.05 L316.2 588.4 Z M317.7 588.4 L318.6 586.3 L318.88 580 L319.12 580 L319.4 586.3 L320.3 588.4 Z M331.7 588.4 L332.6 585.55 L332.88 577 L333.12 577 L333.4 585.55 L334.3 588.4 Z M351.7 588.4 L352.6 585.8 L352.88 578 L353.12 578 L353.4 585.8 L354.3 588.4 Z M393.6 588.4 L394.5 586.05 L394.78 579 L395.02 579 L395.3 586.05 L396.2 588.4 Z M188.7 588.4 L189.6 584.67 L189.88 573.5 L190.12 573.5 L190.4 584.67 L191.3 588.4 Z M200.6 588.4 L201.5 585.17 L201.78 575.5 L202.02 575.5 L202.3 585.17 L203.2 588.4 Z M229.95 588.4 L230.85 585 L231.13 574.8 L231.37 574.8 L231.65 585 L232.55 588.4 Z M234.95 588.4 L235.85 584.8 L236.13 574 L236.37 574 L236.65 584.8 L237.55 588.4 Z M247.45 588.4 L248.35 585.17 L248.63 575.5 L248.87 575.5 L249.15 585.17 L250.05 588.4 Z M182.7 588.4 L183.6 584.67 L183.88 573.5 L184.12 573.5 L184.4 584.67 L185.3 588.4 Z M184 588.4 L184.9 584.92 L185.18 574.5 L185.42 574.5 L185.7 584.92 L186.6 588.4 Z M400.3 588.4 L401.2 585.92 L401.48 578.5 L401.72 578.5 L402 585.92 L402.9 588.4 Z M438.45 588.4 L439.35 586.42 L439.63 580.5 L439.87 580.5 L440.15 586.42 L441.05 588.4 Z M442.2 588.4 L443.1 586.42 L443.38 580.5 L443.62 580.5 L443.9 586.42 L444.8 588.4 Z M475.3 588.4 L476.2 586.17 L476.48 579.5 L476.72 579.5 L477 586.17 L477.9 588.4 Z M487.7 588.4 L488.6 586.67 L488.88 581.5 L489.12 581.5 L489.4 586.67 L490.3 588.4 Z M497.7 588.4 L498.6 586.67 L498.88 581.5 L499.12 581.5 L499.4 586.67 L500.3 588.4 Z"/>
<path stroke-width="0.8" d="M168.8 588.4 L169.7 574.4 L170.13 110.5 L170.37 110.5 L170.8 574.4 L171.7 588.4 Z M210.55 588.4 L211.45 574.4 L211.88 144 L212.12 144 L212.55 574.4 L213.45 588.4 Z M252.3 588.4 L253.2 574.4 L253.63 128.5 L253.87 128.5 L254.3 574.4 L255.2 588.4 Z M294.05 588.4 L294.95 574.4 L295.38 213 L295.62 213 L296.05 574.4 L296.95 588.4 Z M335.8 588.4 L336.7 574.4 L337.13 273.5 L337.37 273.5 L337.8 574.4 L338.7 588.4 Z M377.55 588.4 L378.45 574.4 L378.88 367.5 L379.12 367.5 L379.55 574.4 L380.45 588.4 Z M419.05 588.4 L419.95 574.4 L420.38 435.5 L420.62 435.5 L421.05 574.4 L421.95 588.4 Z M460.3 588.4 L461.2 574.4 L461.63 491.25 L461.87 491.25 L462.3 574.4 L463.2 588.4 Z M501.8 588.4 L502.7 574.4 L503.13 516.25 L503.37 516.25 L503.8 574.4 L504.7 588.4 Z M543.55 588.4 L544.45 576.17 L544.88 539.5 L545.12 539.5 L545.55 576.17 L546.45 588.4 Z M585.3 588.4 L586.2 579.67 L586.63 553.5 L586.87 553.5 L587.3 579.67 L588.2 588.4 Z M627.05 588.4 L627.95 582.05 L628.38 563 L628.62 563 L629.05 582.05 L629.95 588.4 Z M669.05 588.4 L669.95 583.67 L670.38 569.5 L670.62 569.5 L671.05 583.67 L671.95 588.4 Z M710.55 588.4 L711.45 584.11 L711.88 571.25 L712.12 571.25 L712.55 584.11 L713.45 588.4 Z M752.05 588.4 L752.95 586.17 L753.38 579.5 L753.62 579.5 L754.05 586.17 L754.95 588.4 Z M793.8 588.4 L794.7 585.92 L795.13 578.5 L795.37 578.5 L795.8 585.92 L796.7 588.4 Z M835.3 588.4 L836.2 585.86 L836.63 578.25 L836.87 578.25 L837.3 585.86 L838.2 588.4 Z"/>
</g>
<g fill="#000" stroke="#000" stroke-width="2.4" stroke-linejoin="round"><polygon points="168,84.95 176.6,101.55 159.4,101.55"/><polygon points="211.75,115.45 220.35,131.3 203.15,131.3"/><polygon points="259,102.45 267.6,119.3 250.4,119.3"/><polygon points="296.5,187.95 305.1,204.8 287.9,204.8"/><polygon points="339.5,246.95 348.1,263.55 330.9,263.55"/><polygon points="382.5,335.45 391.1,351.55 373.9,351.55"/><polygon points="419.75,409.45 428.35,426.3 411.15,426.3"/><polygon points="462,463.7 470.6,480.8 453.4,480.8"/><polygon points="503.25,488.2 511.85,504.55 494.65,504.55"/><polygon points="547.5,515.45 556.1,531.3 538.9,531.3"/><polygon points="587.75,527.45 596.35,543.3 579.15,543.3"/><polygon points="626.75,531.7 635.35,548.05 618.15,548.05"/><polygon points="672.5,542.95 681.1,558.8 663.9,558.8"/><polygon points="711.75,546.45 720.35,562.3 703.15,562.3"/><polygon points="754,552.95 762.6,569.3 745.4,569.3"/><polygon points="798,550.7 806.6,567.05 789.4,567.05"/><polygon points="833.75,548.7 842.35,565.05 825.15,565.05"/></g>
<g fill="#000"><circle cx="190.5" cy="500.75" r="9.8"/><circle cx="236" cy="498.5" r="9.8"/><circle cx="277.5" cy="496.5" r="9.8"/><circle cx="320.25" cy="497.5" r="9.8"/></g>
<g class="tk"><text transform="translate(119.2 32.5) scale(1 1.015)" text-anchor="end">12000</text><text transform="translate(119.2 126.85) scale(1 1.015)" text-anchor="end">10000</text><text transform="translate(119.2 221.2) scale(1 1.015)" text-anchor="end">8000</text><text transform="translate(119.2 315.55) scale(1 1.015)" text-anchor="end">6000</text><text transform="translate(119.2 409.9) scale(1 1.015)" text-anchor="end">4000</text><text transform="translate(119.2 504.25) scale(1 1.015)" text-anchor="end">2000</text><text transform="translate(118.3 598.6) scale(1 1.015)" text-anchor="end">0</text><text transform="translate(143 633.1) scale(1 1.015)" text-anchor="middle">700</text><text transform="translate(274.9 633.1) scale(1 1.015)" text-anchor="middle">1200</text><text transform="translate(406.8 633.1) scale(1 1.015)" text-anchor="middle">1700</text><text transform="translate(537.7 633.1) scale(1 1.015)" text-anchor="middle">2200</text><text transform="translate(669.6 633.1) scale(1 1.015)" text-anchor="middle">2700</text><text transform="translate(801.6 633.1) scale(1 1.015)" text-anchor="middle">3200</text><text transform="translate(933.4 633.1) scale(1 1.015)" text-anchor="middle">3700</text></g>
<text class="ttl" transform="translate(577.8 674.3) scale(1 1.04)" text-anchor="middle">Mass M/z</text>
<text class="ttl" transform="translate(34.2 306) rotate(-90)" text-anchor="middle">Intensity (a.u)</text>
</svg>
</body></html>
